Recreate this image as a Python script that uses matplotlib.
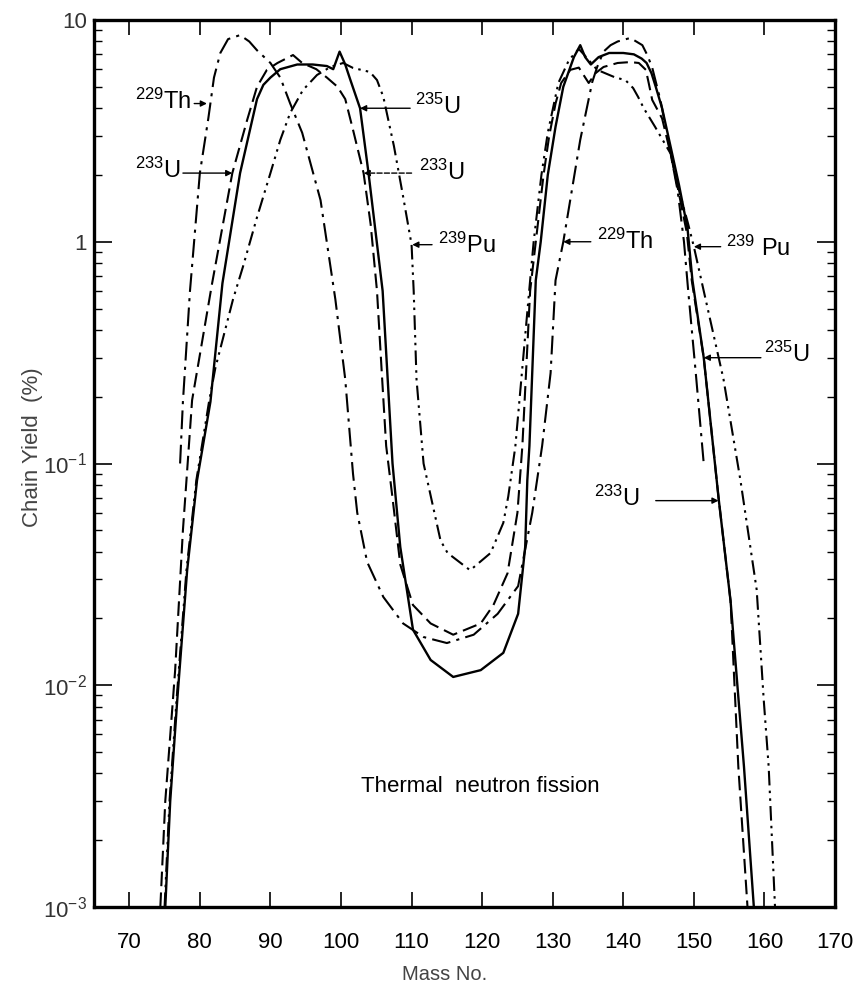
import matplotlib
matplotlib.use('Agg')
import matplotlib.pyplot as plt
from matplotlib.ticker import FixedLocator, FixedFormatter, LogLocator, NullFormatter

# chain yields (%)
th229_mass = [77.2, 77.6, 78.6, 80.0, 81.2, 82.0, 82.9, 84.0, 85.7, 87.0, 88.1, 90.0, 91.4, 92.8,
              94.5, 97.1, 99.2, 100.6, 101.7, 102.3, 103.7, 106.0, 108.8, 111.7, 115.0, 118.8,
              122.2, 125.1, 127.1, 128.5, 129.7, 130.4, 131.5, 133.9, 135.6, 136.3, 137.2, 138.2,
              139.2, 141.0, 142.7, 143.4, 144.1, 145.3, 146.6, 147.7, 148.6, 149.2, 150.3, 151.4]
th229_yield = [0.1, 0.19, 0.6, 2.04, 3.6, 5.5, 7.1, 8.2, 8.55, 8.0, 7.3, 6.4, 5.5, 4.2,
               3.1, 1.54, 0.55, 0.24, 0.09, 0.06, 0.036, 0.025, 0.019, 0.0165, 0.0155, 0.0169,
               0.021, 0.028, 0.06, 0.12, 0.256, 0.67, 1.0, 2.88, 5.25, 6.14, 7.2, 7.7,
               8.0, 8.3, 7.7, 6.95, 6.1, 4.3, 2.6, 1.7, 1.0, 0.6, 0.25, 0.1]

u233_mass = [74.4, 75.1, 76.5, 77.6, 78.2, 78.9, 81.7, 84.6, 86.7, 88.1, 89.5, 91.0, 93.2, 94.5,
             96.5, 98.0, 99.5, 100.6, 101.7, 103.2, 104.2, 105.1, 105.8, 106.4, 107.3, 108.4,
             110.2, 112.7, 115.9, 119.8, 121.6, 123.6, 125.0, 125.7, 126.8, 127.6, 128.7, 129.5,
             130.4, 131.2, 132.5, 133.7, 135.1, 136.1, 137.2, 139.2, 141.0, 142.2, 143.2, 143.6,
             144.1, 145.5, 146.7, 147.8, 149.0, 149.7, 151.4, 153.5, 155.2, 156.3, 157.6]
u233_yield = [0.001, 0.003, 0.0117, 0.05, 0.093, 0.193, 0.64, 2.04, 3.54, 5.0, 5.96, 6.4, 6.95, 6.4,
              6.0, 5.5, 5.0, 4.4, 3.2, 2.04, 1.2, 0.6, 0.25, 0.12, 0.07, 0.035,
              0.023, 0.019, 0.0169, 0.019, 0.023, 0.032, 0.06, 0.12, 0.6, 1.0, 2.0, 3.0,
              4.2, 5.2, 5.96, 6.1, 5.2, 5.77, 6.14, 6.4, 6.46, 6.4, 5.96, 5.2,
              4.36, 3.6, 2.5, 1.7, 1.1, 0.67, 0.30, 0.07, 0.024, 0.0043, 0.001]

u235_mass = [75.1, 75.8, 76.8, 78.2, 79.6, 81.5, 83.2, 85.7, 88.1, 89.0, 90.0, 91.4, 93.8, 96.0,
             98.0, 98.9, 99.8, 100.6, 101.3, 102.7, 103.9, 105.9, 107.3, 108.4, 110.2, 112.7,
             115.9, 119.8, 123.0, 125.1, 126.1, 126.4, 126.7, 127.6, 128.3, 129.3, 130.4, 131.5,
             133.0, 133.9, 134.6, 135.4, 136.5, 138.0, 140.0, 141.5, 142.6, 143.3, 144.0, 144.6,
             145.5, 146.8, 147.9, 149.1, 149.8, 151.4, 153.5, 155.2, 157.1, 158.5]
u235_yield = [0.001, 0.003, 0.0086, 0.033, 0.084, 0.19, 0.65, 2.04, 4.4, 5.1, 5.5, 6.0, 6.3, 6.3,
              6.2, 6.0, 7.2, 6.3, 5.4, 4.0, 2.04, 0.6, 0.1, 0.042, 0.0178, 0.013,
              0.0109, 0.0117, 0.014, 0.021, 0.042, 0.084, 0.12, 0.67, 1.0, 2.0, 3.3, 5.0,
              6.8, 7.7, 6.8, 6.3, 6.8, 7.1, 7.1, 7.0, 6.7, 6.4, 5.75, 5.0,
              4.0, 2.6, 1.8, 1.15, 0.67, 0.30, 0.07, 0.024, 0.0043, 0.001]

pu239_mass = [75.0, 75.7, 76.7, 78.1, 79.5, 81.3, 82.2, 84.7, 86.1, 88.1, 90.0, 91.4, 92.8, 94.6,
              96.6, 98.5, 100.3, 101.7, 104.1, 105.1, 106.0, 107.5, 108.8, 110.0, 110.3, 110.7,
              111.7, 114.1, 115.1, 118.3, 121.2, 123.0, 123.7, 124.7, 126.8, 127.3, 128.4, 129.3,
              130.8, 132.3, 133.7, 134.4, 136.3, 138.9, 140.3, 141.4, 142.1, 142.9, 144.5, 146.7,
              147.8, 149.2, 150.0, 151.4, 154.2, 156.6, 158.9, 159.9, 160.6, 161.5]
pu239_yield = [0.001, 0.003, 0.0086, 0.033, 0.084, 0.19, 0.27, 0.55, 0.77, 1.29, 2.04, 2.88, 3.81, 4.83,
               5.65, 6.14, 6.4, 6.08, 5.83, 5.36, 4.5, 2.7, 1.6, 0.97, 0.6, 0.24,
               0.1, 0.045, 0.0395, 0.033, 0.0395, 0.054, 0.071, 0.119, 0.67, 1.0, 2.0, 3.1,
               5.2, 6.6, 7.4, 7.0, 5.96, 5.5, 5.36, 4.93, 4.5, 4.0, 3.3, 2.5,
               1.75, 1.2, 0.95, 0.6, 0.24, 0.084, 0.027, 0.0086, 0.0043, 0.001]

x_ticks = list(range(70, 171, 10))
y_ticks = [1e-3, 1e-2, 1e-1, 1, 10]
y_tick_labels = ['$10^{-3}$', '$10^{-2}$', '$10^{-1}$', '1', '10']

# (text, text position, arrow tail, arrow tip, dashed leader)
labels = [
    ('$^{229}$Th', (70.8, 4.3), (79.2, 4.2), (81.0, 4.2), False),
    ('$^{233}$U', (70.8, 2.1), (77.6, 2.04), (84.6, 2.04), False),
    ('$^{235}$U', (110.5, 4.1), (109.8, 4.0), (102.7, 4.0), False),
    ('$^{233}$U', (111.0, 2.05), (110.0, 2.04), (103.2, 2.04), True),
    ('$^{239}$Pu', (113.7, 0.96), (112.9, 0.97), (110.1, 0.97), False),
    ('$^{229}$Th', (136.3, 1.0), (135.4, 1.0), (131.5, 1.0), False),
    ('$^{239}$ Pu', (154.5, 0.93), (153.8, 0.95), (150.0, 0.95), False),
    ('$^{235}$U', (159.9, 0.31), (159.5, 0.30), (151.4, 0.30), False),
    ('$^{233}$U', (135.8, 0.07), (144.6, 0.068), (153.5, 0.068), False),
]

plt.rcParams['mathtext.default'] = 'regular'
sans = ['Liberation Sans', 'DejaVu Sans']

fig = plt.figure(figsize=(8.57, 10.02), dpi=100)
ax = fig.add_axes([94/857, 95/1002, 741/857, 887/1002])

ax.plot(th229_mass, th229_yield, color='k', lw=1.5, ls=(0, (9, 3, 1.5, 3)))
ax.plot(u233_mass, u233_yield, color='k', lw=1.5, ls=(0, (7, 3)))
ax.plot(u235_mass, u235_yield, color='k', lw=1.7, ls='-')
ax.plot(pu239_mass, pu239_yield, color='k', lw=1.5, ls=(0, (7, 2.5, 1.2, 2.5, 1.2, 2.5)))

ax.set_yscale('log')
ax.set_xlim(65, 170)
ax.set_ylim(1e-3, 10)

ax.set_xticks(x_ticks)
ax.set_xticklabels([str(t) for t in x_ticks], family=sans, fontsize=16)
ax.yaxis.set_major_locator(FixedLocator(y_ticks))
ax.yaxis.set_major_formatter(FixedFormatter(y_tick_labels))
ax.yaxis.set_minor_locator(LogLocator(base=10, subs=range(2, 10)))
ax.yaxis.set_minor_formatter(NullFormatter())
for lab in ax.get_yticklabels():
    lab.set_family(sans)
    lab.set_fontsize(16)
    lab.set_color('#333333')

ax.tick_params(axis='x', direction='in', top=True, length=11, width=1.2, pad=18)
ax.tick_params(axis='y', which='major', direction='in', left=True, right=True, length=13, width=1.2, pad=5)
ax.tick_params(axis='y', which='minor', direction='in', left=True, right=True, length=6, width=1.0)
for sp in ax.spines.values():
    sp.set_linewidth(2.4)

for text, pos, tail, tip, dashed in labels:
    ax.text(pos[0], pos[1], text, family=sans, fontsize=17, ha='left', va='center')
    ax.annotate('', xy=tip, xytext=tail,
                arrowprops=dict(arrowstyle='-|>', color='k', lw=1.0, mutation_scale=9,
                                shrinkA=0, shrinkB=0, ls='--' if dashed else '-'))

ax.text(119.75, 0.0035, 'Thermal  neutron fission', family=sans, fontsize=16,
        ha='center', va='center')

fig.text(445/857, 1 - 975/1002, 'Mass No.', family=sans, fontsize=14.5, color='#444444',
         ha='center', va='center')
fig.text(33/857, 1 - 447/1002, 'Chain Yield  (%)', family=sans, fontsize=16, color='#444444',
         ha='center', va='center', rotation=90)

fig.savefig('out.png', dpi=100)
